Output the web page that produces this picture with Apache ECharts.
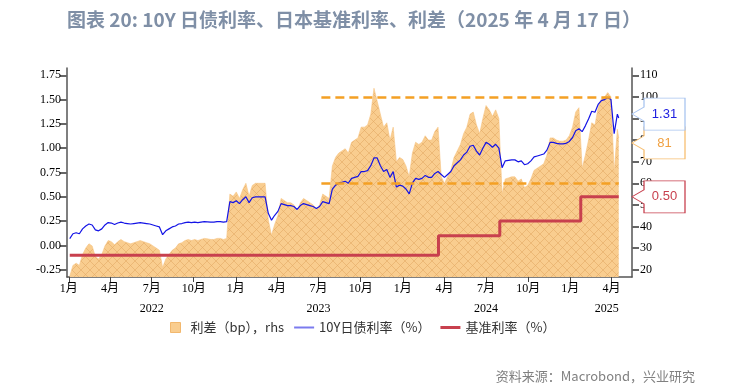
<!DOCTYPE html>
<html><head><meta charset="utf-8">
<script src="https://cdn.jsdelivr.net/npm/echarts@6/dist/echarts.min.js"></script>
<style>html,body{margin:0;padding:0;background:#fff}#c{width:730px;height:388px}</style>
</head><body><div id="c"></div>
<script>
// ---- data ----
const weekStart = '2022-01-03';           // weekly (Monday) observations
const yield10y = [
0.07,0.12,0.13,0.12,0.17,0.20,0.22,0.21,0.16,0.15,
0.17,0.21,0.235,0.23,0.215,0.23,0.24,0.23,0.225,0.22,
0.225,0.23,0.235,0.23,0.225,0.22,0.21,0.20,0.19,0.11,
0.15,0.17,0.19,0.20,0.22,0.225,0.235,0.24,0.235,0.24,
0.235,0.24,0.245,0.243,0.24,0.24,0.245,0.245,0.24,0.245,
0.45,0.44,0.46,0.43,0.47,0.50,0.44,0.49,0.50,0.50,
0.50,0.50,0.33,0.26,0.31,0.35,0.43,0.42,0.41,0.41,
0.40,0.37,0.41,0.43,0.42,0.41,0.40,0.38,0.40,0.45,
0.44,0.43,0.58,0.62,0.64,0.65,0.66,0.64,0.69,0.70,
0.71,0.76,0.76,0.77,0.82,0.90,0.90,0.82,0.76,0.78,
0.70,0.76,0.60,0.62,0.61,0.58,0.53,0.64,0.69,0.68,
0.69,0.72,0.70,0.70,0.74,0.76,0.73,0.70,0.73,0.76,
0.82,0.85,0.88,0.93,0.96,1.02,1.03,0.97,0.93,1.00,
1.06,1.04,1.01,1.04,1.00,0.80,0.87,0.875,0.88,0.88,
0.86,0.87,0.83,0.84,0.87,0.91,0.92,0.93,0.94,0.98,
1.06,1.06,1.05,1.045,1.045,1.05,1.07,1.11,1.18,1.20,
1.17,1.23,1.30,1.38,1.37,1.45,1.49,1.50,1.52,1.50,
1.15,1.35
];
const spreadBp = [
17,22,23,22,27,30,32,31,26,25,
27,31,33.5,33,31.5,33,34,33,32.5,32,
32.5,33,33.5,33,32.5,32,31,30,29,21,
25,27,29,30,32,32.5,33.5,34,33.5,34,
33.5,34,34.5,34.3,34,34,34.5,34.5,34,34.5,
55,54,56,53,57,60,54,59,60,60,
60,60,43,36,41,45,53,52,51,51,
50,47,51,53,52,51,50,48,50,55,
54,53,68,72,74,75,76,74,79,80,
81,86,86,87,92,104,98,92,86,88,
80,86,70,72,71,68,63,74,79,78,
79,82,80,80,84,86,63,60,63,66,
72,75,78,83,86,92,93,87,83,90,
96,94,91,94,90,55,62,62.5,63,63,
61,62,58,59,62,66,67,68,69,73,
81,81,80,79.5,79.5,80,82,86,93,95,
67,73,80,88,87,95,99,100,102,100,
65,85
];
const lastDate = '2025-04-17';
const lastYield = 1.31;
const lastSpread = 81;
const policyDates = ['2022-01-03','2024-03-19','2024-07-31','2025-01-24','2025-04-17'];
const policyRate = [-0.1, 0.1, 0.25, 0.5, 0.5];
const leftTicks = [-0.25,0,0.25,0.5,0.75,1.0,1.25,1.5,1.75];
const rightTicks = [20,30,40,50,60,70,80,90,100,110];
const monthTicks = ['2022-01-01','2022-04-01','2022-07-01','2022-10-01','2023-01-01','2023-04-01','2023-07-01','2023-10-01','2024-01-01','2024-04-01','2024-07-01','2024-10-01','2025-01-01','2025-04-01'];
const yearLabels = ['2022','2023','2024','2025'];
const yearLabelDates = ['2022-07-01','2023-07-01','2024-07-01','2025-03-22'];
const bandLevels = [100, 60];
const bandStart = '2023-07-07';
const xMinDate = '2021-12-28';
const xMaxDate = '2025-05-16';

// ---- helpers ----
function ts(s){const p=s.split('-').map(Number);return Date.UTC(p[0],p[1]-1,p[2]);}
const ws = weekStart.split('-').map(Number);
const weekDates = yield10y.map((_, i) => Date.UTC(ws[0], ws[1]-1, ws[2] + 7*i));
const yieldData = weekDates.map((d,i)=>[d, yield10y[i]]).concat([[ts(lastDate), lastYield]]);
const spreadData = weekDates.map((d,i)=>[d, spreadBp[i]]).concat([[ts(lastDate), lastSpread]]);
const policyData = policyDates.map((d,i)=>[ts(d), policyRate[i]]);
const xMin = ts(xMinDate), xMax = ts(xMaxDate);
const monthTs = monthTicks.map(ts);
const yearTs = yearLabelDates.map(ts);

function hatch(){
  const n=9, c=document.createElement('canvas'); c.width=c.height=n;
  const g=c.getContext('2d');
  g.fillStyle='#F9CD8F'; g.fillRect(0,0,n,n);
  g.strokeStyle='rgba(225,168,98,0.55)'; g.lineWidth=1;
  g.beginPath(); g.moveTo(0,0); g.lineTo(n,n); g.moveTo(n,0); g.lineTo(0,n); g.stroke();
  return c;
}
const pat = {image: hatch(), repeat: 'repeat'};
const calloutPath = 'path://M0,16 L12,9 L12,0 L53,0 L53,32 L12,32 L12,23 Z';
const numFont = "'Liberation Serif', 'Noto Sans CJK SC', serif";
const cjkFont = "'Noto Sans CJK SC', sans-serif";

function callout(val, text, dy, border, color){
  return {
    symbol: calloutPath, symbolSize: [53,32], symbolKeepAspect: false,
    symbolOffset: [26.5, dy], silent: true,
    itemStyle: {color:'#fff', borderColor: border, borderWidth: 1},
    label: {show:true, position:'inside', offset:[6,0], formatter: text, color: color,
            fontSize: 13, fontFamily: "'Liberation Sans', sans-serif"},
    data: [{coord:[xMax, val]}]
  };
}

const chart = echarts.init(document.getElementById('c'), null, {renderer:'canvas'});
chart.setOption({
  animation: false,
  title: [
    {text: '图表 20: 10Y 日债利率、日本基准利率、利差（2025 年 4 月 17 日）', left: 62, top: 5,
     textStyle: {fontFamily: cjkFont, fontSize: 19, fontWeight: 'bold', color: '#7F8FA6'}},
    {text: '资料来源：Macrobond，兴业研究', right: 30, top: 365,
     textStyle: {fontFamily: cjkFont, fontSize: 13, fontWeight: 'normal', color: '#808080'}}
  ],
  grid: {left: 67, right: 98, top: 68, bottom: 111},
  legend: {
    left: 165, top: 316, itemWidth: 20, itemHeight: 10, itemGap: 10,
    textStyle: {fontFamily: cjkFont, fontSize: 13, color: '#333'},
    data: [
      {name:'利差（bp），rhs', icon:'path://M0,0L10,0L10,10L0,10Z', itemStyle:{color:'#F9CD8F', borderColor:'#F2B86E', borderWidth:1}},
      {name:'10Y日债利率（%）', icon:'path://M0,0L20,0L20,2L0,2Z', itemStyle:{color:'#7B7BEE'}},
      {name:'基准利率（%）', icon:'path://M0,0L20,0L20,3L0,3Z', itemStyle:{color:'#C8404E'}}
    ]
  },
  xAxis: [
    {type:'value', min:xMin, max:xMax, position:'bottom',
     axisLine:{show:true, onZero:false, lineStyle:{color:'#555', width:1.5}},
     axisTick:{show:true, length:5, inside:false, customValues: monthTs, lineStyle:{color:'#444', width:1}},
     axisLabel:{show:true, customValues: monthTs, margin:6, color:'#000', fontFamily:numFont, fontSize:12,
       formatter: v => (new Date(v).getUTCMonth()+1) + '月', hideOverlap:false},
     splitLine:{show:false}},
    {type:'value', min:xMin, max:xMax, position:'bottom', offset:18,
     axisLine:{show:false, onZero:false}, axisTick:{show:false}, splitLine:{show:false},
     axisLabel:{show:true, customValues: yearTs, color:'#000', fontFamily:numFont, fontSize:12,
       formatter: v => { const i=yearTs.indexOf(v); return i>=0?yearLabels[i]:''; }, hideOverlap:false}}
  ],
  yAxis: [
    {type:'value', min:-0.325, max:1.825, position:'left',
     axisLine:{show:true, lineStyle:{color:'#555', width:1.5}},
     axisTick:{show:true, length:7, customValues:leftTicks, lineStyle:{color:'#666', width:2}},
     axisLabel:{customValues:leftTicks, margin:6, color:'#000', fontFamily:numFont, fontSize:12, formatter:v=>v.toFixed(2)},
     splitLine:{show:false}},
    {type:'value', min:16.625, max:113.375, position:'right',
     axisLine:{show:true, lineStyle:{color:'#555', width:1.5}},
     axisTick:{show:true, length:7, customValues:rightTicks, lineStyle:{color:'#666', width:2}},
     axisLabel:{customValues:rightTicks, margin:8, color:'#000', fontFamily:numFont, fontSize:12},
     splitLine:{show:false}}
  ],
  series: [
    {name:'利差（bp），rhs', type:'line', yAxisIndex:1, data: spreadData, showSymbol:false, clip:false,
     lineStyle:{width:0.6, color:'#F6C583'}, itemStyle:{color:'#F9CD8F'},
     areaStyle:{color: pat, opacity:1, origin:'start'}, z:1,
     markLine:{silent:true, symbol:['none','none'], label:{show:false},
       lineStyle:{color:'#F4A024', width:2.5, type:[9,5]},
       data: bandLevels.map(v => [{coord:[ts(bandStart), v]}, {coord:[ts(lastDate), v]}])},
     markPoint: callout(lastSpread, String(lastSpread), 5, '#F7BE70', '#F0A040')
    },
    {name:'基准利率（%）', type:'line', step:'end', data: policyData, showSymbol:false, clip:false,
     lineStyle:{width:3, color:'#C8404E'}, itemStyle:{color:'#C8404E'}, z:3,
     markPoint: callout(policyRate[policyRate.length-1], policyRate[policyRate.length-1].toFixed(2), 0, '#C8404E', '#C8404E')},
    {name:'10Y日债利率（%）', type:'line', data: yieldData, showSymbol:false, clip:false,
     lineStyle:{width:1.2, color:'#1414E6'}, itemStyle:{color:'#1414E6'}, z:4,
     markPoint: callout(lastYield, lastYield.toFixed(2), -4, '#A8C4F0', '#2020E0')}
  ]
});
</script></body></html>
